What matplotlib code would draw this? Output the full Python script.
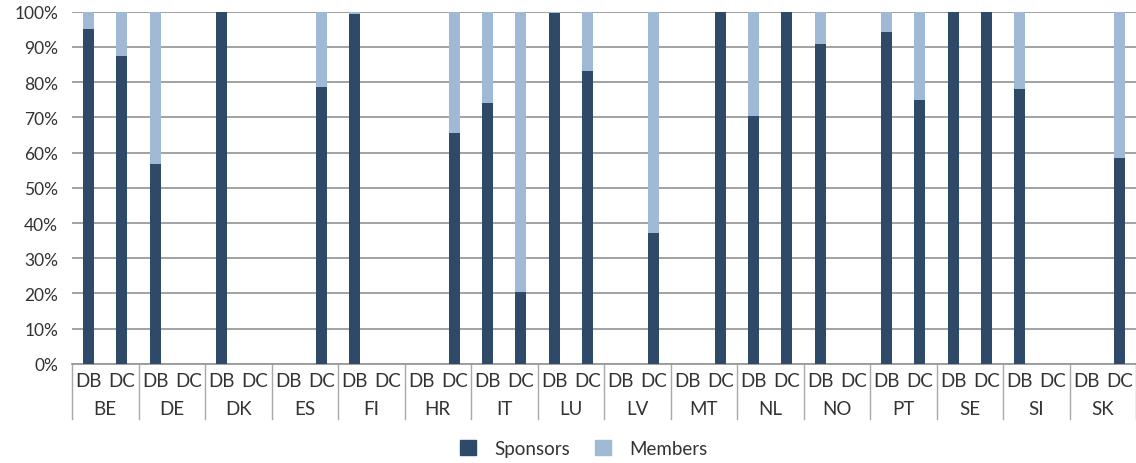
import numpy as np
import matplotlib.pyplot as plt
import matplotlib.transforms as mtransforms
from matplotlib.patches import Patch

plt.rcParams['font.family'] = ['Lato', 'DejaVu Sans']

countries = ['BE', 'DE', 'DK', 'ES', 'FI', 'HR', 'IT', 'LU',
             'LV', 'MT', 'NL', 'NO', 'PT', 'SE', 'SI', 'SK']
plans = ['DB', 'DC']
# sponsors share (%) per country: [DB, DC]; None = no bar
sponsors_db = [95.0, 56.8, 99.8, None, 99.4, None, 74.1, 99.7,
               None, None, 70.5, 90.9, 94.3, 100.0, 78.1, None]
sponsors_dc = [87.5, None, None, 78.7, None, 65.6, 20.5, 83.2,
               37.2, 100.0, 100.0, None, 75.0, 100.0, None, 58.5]

dark = '#2e4a68'
light = '#a0bad5'
grid_c = '#9a9a9a'
txt = '#333333'

sponsors = []
for a, b in zip(sponsors_db, sponsors_dc):
    sponsors += [a, b]
sponsors = np.array([np.nan if v is None else v for v in sponsors])
members = 100 - sponsors
x = np.arange(len(sponsors))

fig = plt.figure(figsize=(11.36, 4.64), dpi=100)
ax = fig.add_axes([0.0634, 0.2134, 0.9366, 0.7596])

ax.bar(x, sponsors, width=0.33, color=dark, label='Sponsors', zorder=3)
ax.bar(x, members, bottom=sponsors, width=0.33, color=light, label='Members', zorder=3)

ax.set_xlim(-0.5, len(x) - 0.5)
ax.set_ylim(0, 100)
ax.set_yticks(np.arange(0, 101, 10))
ax.set_yticklabels([f'{v}%' for v in range(0, 101, 10)], fontsize=12.5, color=txt)
ax.yaxis.grid(True, color=grid_c, lw=1.3, zorder=0)
ax.tick_params(axis='y', length=0, pad=10)
ax.set_xticks([])
for s in ['left', 'right', 'top']:
    ax.spines[s].set_visible(False)
ax.spines['bottom'].set_color(grid_c)
ax.spines['bottom'].set_linewidth(1.3)

trans = mtransforms.blended_transform_factory(ax.transData, ax.transAxes)
for i in range(len(countries) + 1):
    ax.plot([2 * i - 0.5, 2 * i - 0.5], [0, -0.157], transform=trans,
            color='#a8a8a8', lw=1, clip_on=False)
for i, c in enumerate(countries):
    ax.text(2 * i, -0.048, plans[0], transform=trans, ha='center', va='center',
            fontsize=13.5, color=txt)
    ax.text(2 * i + 1, -0.048, plans[1], transform=trans, ha='center', va='center',
            fontsize=13.5, color=txt)
    ax.text(2 * i + 0.5, -0.125, c, transform=trans, ha='center', va='center',
            fontsize=13.5, color=txt)

handles = [Patch(color=dark, label='Sponsors'), Patch(color=light, label='Members')]
fig.legend(handles=handles, loc='center', bbox_to_anchor=(0.514, 0.032), ncol=2,
           frameon=False, fontsize=13.5, handlelength=0.85, handleheight=0.85,
           columnspacing=1.3, handletextpad=1.0, labelcolor=txt)

fig.savefig('out.png', dpi=100)
